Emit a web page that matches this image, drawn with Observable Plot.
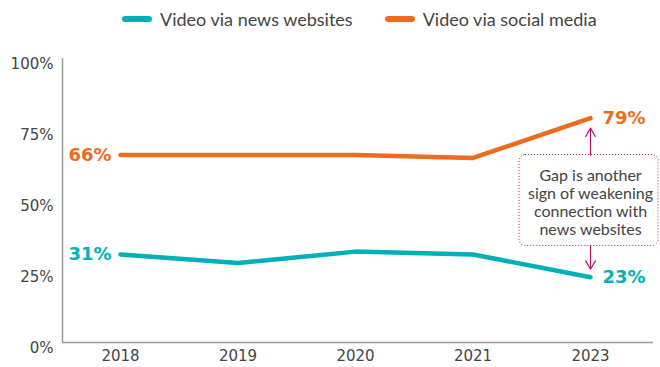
<!DOCTYPE html>
<html>
<head>
<meta charset="utf-8">
<script src="https://cdn.jsdelivr.net/npm/d3@7"></script>
<script src="https://cdn.jsdelivr.net/npm/@observablehq/plot@0.6"></script>
<style>
  html, body { margin: 0; padding: 0; background: #fff; }
  #legend { height: 38px; display: flex; align-items: center; padding-left: 122px; font-family: Lato, sans-serif; font-size: 18px; color: #444; }
  .item { display: flex; align-items: center; margin-right: 32px; }
  .sw { width: 30px; height: 6px; border-radius: 3px; margin-right: 8px; }
  svg { display: block; }
</style>
</head>
<body>
<div id="legend"></div>
<div id="chart"></div>
<script>
const years = ["2018", "2019", "2020", "2021", "2023"];
const newsWebsites = [31, 28, 32, 31, 23];
const socialMedia = [66, 66, 66, 65, 79];
const seriesNames = ["Video via news websites", "Video via social media"];
const seriesColors = ["#00b0b9", "#ee6b1e"];
const yTicks = [0, 25, 50, 75, 100];
const noteText = "Gap is another\nsign of weakening\nconnection with\nnews websites";
const noteColor = "#b5156b";

const data = [];
years.forEach((y, i) => {
  data.push({ i, year: y, series: seriesNames[0], value: newsWebsites[i] });
  data.push({ i, year: y, series: seriesNames[1], value: socialMedia[i] });
});

// Legend
const legend = document.getElementById("legend");
seriesNames.forEach((n, k) => {
  const it = document.createElement("div");
  it.className = "item";
  it.innerHTML = `<span class="sw" style="background:${seriesColors[k]}"></span><span>${n}</span>`;
  legend.appendChild(it);
});

const last = years.length - 1;
const xMin = -0.4936, xMax = 4.536;
const labelFont = "'DejaVu Sans', sans-serif";

const chart = Plot.plot({
  width: 660,
  height: 329,
  marginLeft: 62,
  marginRight: 7,
  marginTop: 20,
  marginBottom: 25,
  style: { fontFamily: labelFont, fontSize: "15px", color: "#444", background: "#fff" },
  x: { domain: [xMin, xMax] },
  y: { domain: [0, 100] },
  color: { domain: seriesNames, range: seriesColors },
  marks: [
    Plot.ruleY([0], { stroke: "#999", strokeWidth: 1.5 }),
    Plot.ruleX([xMin], { stroke: "#999", strokeWidth: 1.5 }),
    Plot.axisY({ ticks: yTicks, tickSize: 0, tickPadding: 9, dy: 6, tickFormat: d => d + "%", label: null, fontSize: 15 }),
    Plot.axisX({ ticks: d3.range(years.length), tickSize: 0, tickPadding: 8, tickFormat: i => years[i], label: null, fontSize: 15 }),
    Plot.line(data, { x: "i", y: "value", z: "series", stroke: "series", strokeWidth: 4.5, strokeLinecap: "round", strokeLinejoin: "round" }),
    // start labels
    Plot.text(data.filter(d => d.i === 0), { x: "i", y: "value", text: d => d.value + "%", fill: "series", textAnchor: "end", dx: -9, fontSize: 18, fontWeight: "bold" }),
    // end labels
    Plot.text(data.filter(d => d.i === last), { x: "i", y: "value", text: d => d.value + "%", fill: "series", textAnchor: "start", dx: 12, fontSize: 18, fontWeight: "bold" }),
    // annotation box
    Plot.rect([{ x1: last - 0.604, x2: last + 0.579, y1: 34, y2: 66 }], { x1: "x1", x2: "x2", y1: "y1", y2: "y2", fill: "none", stroke: noteColor, strokeDasharray: "1,2", strokeWidth: 1, rx: 6 }),
    Plot.text([noteText], { x: last, y: 49.3, text: d => d, fontFamily: "Lato, sans-serif", fontSize: 16, fill: "#444", lineHeight: 1.13 }),
    Plot.arrow([{ x: last, y1: 66, y2: socialMedia[last] }], { x1: "x", x2: "x", y1: "y1", y2: "y2", stroke: noteColor, strokeWidth: 1.2, headLength: 12, insetEnd: 10, bend: 0 }),
    Plot.arrow([{ x: last, y1: 34, y2: newsWebsites[last] }], { x1: "x", x2: "x", y1: "y1", y2: "y2", stroke: noteColor, strokeWidth: 1.2, headLength: 12, insetEnd: 8, bend: 0 })
  ]
});
document.getElementById("chart").appendChild(chart);
</script>
</body>
</html>
